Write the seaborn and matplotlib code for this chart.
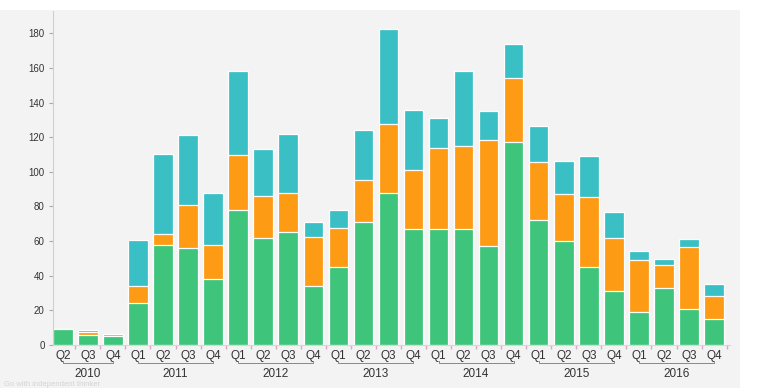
import pandas as pd
import matplotlib.pyplot as plt
import matplotlib.transforms as mtransforms
from matplotlib.patches import Rectangle
import seaborn as sns

# quarterly values (stacked: green, orange, teal)
years = ['2010', '2011', '2012', '2013', '2014', '2015', '2016']
quarters = ['Q2', 'Q3', 'Q4',
            'Q1', 'Q2', 'Q3', 'Q4',
            'Q1', 'Q2', 'Q3', 'Q4',
            'Q1', 'Q2', 'Q3', 'Q4',
            'Q1', 'Q2', 'Q3', 'Q4',
            'Q1', 'Q2', 'Q3', 'Q4',
            'Q1', 'Q2', 'Q3', 'Q4']
year_of_bar = ['2010'] * 3 + ['2011'] * 4 + ['2012'] * 4 + ['2013'] * 4 + \
    ['2014'] * 4 + ['2015'] * 4 + ['2016'] * 4
green = [9, 6, 5, 24, 58, 56, 38, 78, 62, 65, 34, 45, 71, 88, 67, 67, 67, 57,
         117, 72, 60, 45, 31, 19, 33, 21, 15]
orange = [0, 1.5, 1.5, 10, 6, 25, 19.5, 32, 24, 23, 28.5, 22.5, 24.5, 39.5, 34,
          47, 48, 61.5, 37.5, 33.5, 27, 40.5, 30.5, 30, 13, 35.5, 13.5]
teal = [0, 1, 0, 26.5, 46.5, 40.5, 30.5, 48.5, 27, 34, 8.5, 10.5, 28.5, 55, 35,
        17, 43, 16.5, 19.5, 21, 19, 23.5, 15.5, 5, 3.5, 4.5, 6.5]

GREEN = '#3ec57b'
ORANGE = '#fd9b14'
TEAL = '#3abfc5'
BG = '#f3f3f4'

df = pd.DataFrame({'year': year_of_bar, 'quarter': quarters,
                   'green': green, 'orange': orange, 'teal': teal})
df['period'] = df['year'] + ' ' + df['quarter']
df['orange_top'] = df['green'] + df['orange']
df['total'] = df['orange_top'] + df['teal']

plt.rcParams['font.family'] = ['Liberation Sans', 'DejaVu Sans']

fig = plt.figure(figsize=(7.75, 3.88), dpi=100, facecolor=BG)
# white strips at the top and right like the screenshot
fig.patches.append(Rectangle((0, 0.974), 1, 0.026, transform=fig.transFigure,
                             facecolor='white', edgecolor='none', zorder=0))
fig.patches.append(Rectangle((0.955, 0), 0.045, 1, transform=fig.transFigure,
                             facecolor='white', edgecolor='none', zorder=0))

ax = fig.add_axes([0.0684, 0.111, 0.874, 0.861])
ax.set_facecolor(BG)

order = list(df['period'])
for col, color in [('total', TEAL), ('orange_top', ORANGE), ('green', GREEN)]:
    sns.barplot(data=df, x='period', y=col, order=order, color=color,
                saturation=1, width=0.78, errorbar=None,
                edgecolor='white', linewidth=0.9, ax=ax)

ax.set_xlim(-0.39, 26.65)
ax.set_ylim(0, 193)
ax.set_xlabel('')
ax.set_ylabel('')

for side in ['top', 'right']:
    ax.spines[side].set_visible(False)
ax.spines['left'].set_color('#cfcfcf')
ax.spines['bottom'].set_color('#ddd3da')

ax.set_yticks(range(0, 181, 20))
ax.tick_params(axis='y', length=3, color='#aaaaaa', labelsize=7,
               labelcolor='#333333', pad=3)
ax.set_xticks(range(len(quarters)))
ax.set_xticklabels(quarters)
ax.tick_params(axis='x', length=0, labelsize=8.5, labelcolor='#333333', pad=4)
ax.set_xticks([i - 0.5 for i in range(1, len(quarters) + 1)], minor=True)
ax.tick_params(axis='x', which='minor', length=3, color='#dca6c6', width=1)

# year labels with a thin bracket under each group
trans = mtransforms.blended_transform_factory(ax.transData, ax.transAxes)
pos = 0
for yr in years:
    n = year_of_bar.count(yr)
    x0, x1 = pos, pos + n - 1
    ax.plot([x0, x0, x1, x1], [-0.048, -0.055, -0.055, -0.048],
            color='#888888', lw=0.7, transform=trans, clip_on=False)
    ax.text((x0 + x1) / 2, -0.088, yr, transform=trans, ha='center',
            va='center', fontsize=8.5, color='#333333')
    pos += n

# faint watermark, kept below the year labels
fig.text(0.005, 0.001, 'Go with independent thinker', fontsize=5.5,
         color='#d4d4d4', ha='left', va='bottom')

fig.savefig('out.png', dpi=100, facecolor=fig.get_facecolor())
